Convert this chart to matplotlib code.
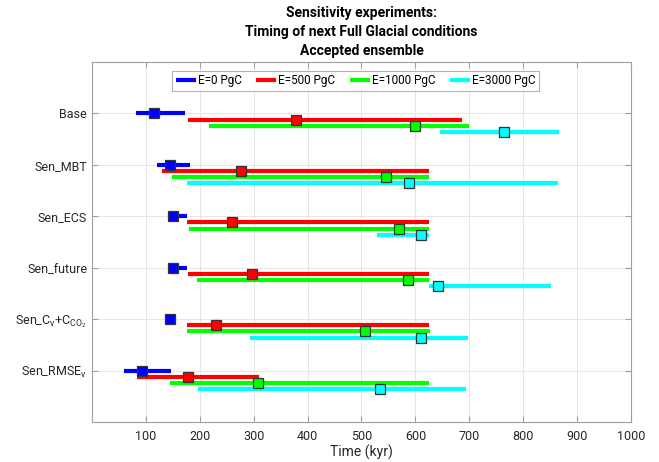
import matplotlib
matplotlib.use("Agg")
import matplotlib.pyplot as plt
import numpy as np

plt.rcParams['font.family'] = ['Roboto', 'DejaVu Sans']

experiments = ['Base', 'Sen_MBT', 'Sen_ECS', 'Sen_future',
               r'Sen_C$_\mathregular{v}$+C$_\mathregular{CO_2}$', r'Sen_RMSE$_\mathregular{v}$']
emissions = ['E=0 PgC', 'E=500 PgC', 'E=1000 PgC', 'E=3000 PgC']
colors = ['#0000ff', '#ff0000', '#00ff00', '#00ffff']

# per emission scenario: lower bound, median, upper bound for each experiment (kyr)
e0_low = [82, 121, 148, 145, 145, 60]
e0_med = [115, 145, 151, 151, 145, 93]
e0_high = [173, 181, 177, 177, 145, 147]

e500_low = [179, 130, 177, 179, 176, 83]
e500_med = [378, 276, 260, 297, 230, 178]
e500_high = [687, 626, 625, 626, 626, 310]

e1000_low = [218, 148, 180, 195, 177, 145]
e1000_med = [600, 545, 569, 586, 506, 308]
e1000_high = [700, 626, 625, 626, 627, 626]

e3000_low = [645, 177, 529, 626, 294, 196]
e3000_med = [764, 588, 610, 642, 611, 535]
e3000_high = [866, 864, 626, 851, 698, 694]

lows = [e0_low, e500_low, e1000_low, e3000_low]
meds = [e0_med, e500_med, e1000_med, e3000_med]
highs = [e0_high, e500_high, e1000_high, e3000_high]

fig = plt.figure(figsize=(6.59, 4.62), dpi=100)
ax = fig.add_axes([0.1396, 0.0866, 0.8179, 0.7792])

ypos = np.arange(1, len(experiments) + 1)
offsets = [0.0, 0.12, 0.24, 0.36]

for k in range(4):
    y = ypos + offsets[k]
    ax.hlines(y, lows[k], highs[k], colors=colors[k], linewidth=3.0,
              label=emissions[k], zorder=3)
    ax.plot(meds[k], y, linestyle='none', marker='s', markersize=7,
            markerfacecolor=colors[k], markeredgecolor='#333333',
            markeredgewidth=0.9, zorder=4)

ax.set_xlim(0, 1000)
ax.set_ylim(7, 0)
ax.set_xticks(np.arange(100, 1001, 100))
ax.set_yticks(ypos)
ax.set_yticklabels(experiments)
ax.grid(True, color='#e6e6e6', linewidth=0.7)
ax.set_axisbelow(True)
for s in ax.spines.values():
    s.set_color('#a0a0a0')
    s.set_linewidth(0.8)
ax.tick_params(axis='both', direction='in', length=4, colors='#a0a0a0',
               labelcolor='#262626', labelsize=9, top=True, right=True)
ax.tick_params(axis='x', pad=6)
ax.set_xlabel('Time (kyr)', fontsize=10, color='#262626', labelpad=1)
ax.set_title('Sensitivity experiments:\nTiming of next Full Glacial conditions\nAccepted ensemble',
             fontsize=10, fontweight='bold', color='black', linespacing=1.45, pad=5)

leg = ax.legend(loc='upper center', bbox_to_anchor=(0.489, 0.985), ncol=4,
                fontsize=8.5, frameon=True, fancybox=False, edgecolor='#a0a0a0',
                handlelength=1.7, handletextpad=0.2, columnspacing=1.2,
                borderpad=0.3, borderaxespad=0.3)
leg.get_frame().set_linewidth(0.8)

fig.savefig('out.png', dpi=100)
